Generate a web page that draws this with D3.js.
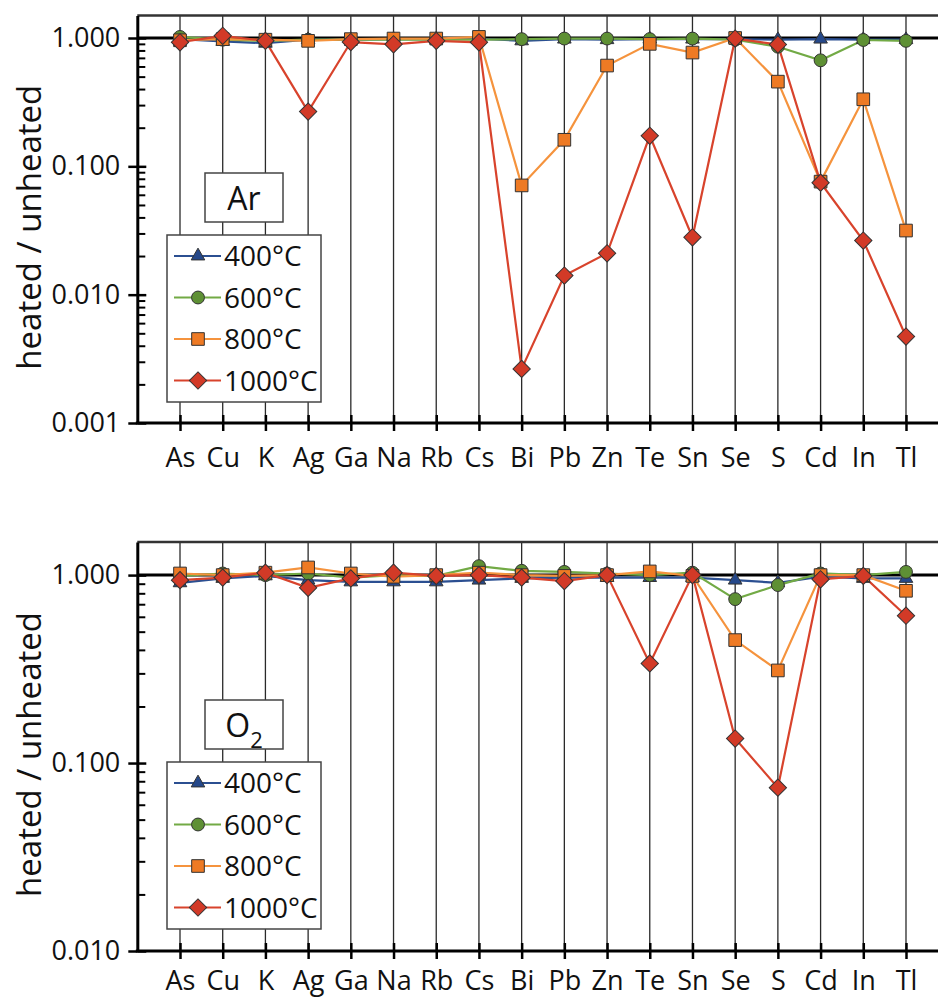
<!DOCTYPE html>
<meta charset="utf-8">
<script src="https://cdn.jsdelivr.net/npm/d3@7"></script>
<style>
  body { margin: 0; background: #fff; }
  text { font-family: "Open Sans", sans-serif; fill: #111; }
</style>
<div id="chart"></div>
<script>
    // categories and legend
    const elements = ["As", "Cu", "K", "Ag", "Ga", "Na", "Rb", "Cs", "Bi", "Pb", "Zn", "Te", "Sn", "Se", "S", "Cd", "In", "Tl"];
    const temps = ["400°C", "600°C", "800°C", "1000°C"];

    // Ar atmosphere (heated / unheated)
    const ar400  = [0.98, 0.94, 0.91, 0.97, 0.97, 0.98, 0.98, 0.99, 0.95, 0.98, 0.97, 0.98, 0.98, 0.98, 0.97, 0.98, 0.97, 0.97];
    const ar600  = [1.02, 0.97, 0.95, 0.97, 0.97, 0.97, 0.97, 0.97, 0.98, 0.99, 0.99, 0.98, 0.99, 0.97, 0.855, 0.67, 0.965, 0.95];
    const ar800  = [0.96, 0.98, 0.97, 0.95, 0.98, 0.99, 0.99, 1.02, 0.071, 0.161, 0.61, 0.90, 0.77, 1.0, 0.457, 0.076, 0.333, 0.0316];
    const ar1000 = [0.926, 1.04, 0.95, 0.267, 0.93, 0.893, 0.95, 0.926, 0.00264, 0.0141, 0.021, 0.173, 0.028, 0.99, 0.89, 0.0746, 0.0264, 0.00472];

    // O2 atmosphere
    const o2_400  = [0.91, 0.96, 0.99, 0.94, 0.92, 0.92, 0.92, 0.94, 0.96, 0.97, 0.97, 0.97, 0.97, 0.94, 0.91, 0.98, 0.96, 0.96];
    const o2_600  = [0.99, 1.02, 1.0, 1.02, 0.97, 1.0, 0.99, 1.116, 1.054, 1.04, 1.02, 1.0, 1.03, 0.745, 0.885, 1.02, 1.0, 1.04];
    const o2_800  = [1.02, 1.0, 1.03, 1.098, 1.02, 0.98, 1.0, 1.03, 1.0, 0.99, 1.0, 1.046, 0.99, 0.451, 0.311, 1.0, 1.0, 0.825];
    const o2_1000 = [0.94, 0.97, 1.03, 0.856, 0.96, 1.03, 0.99, 1.0, 0.97, 0.93, 1.0, 0.339, 1.0, 0.135, 0.074, 0.95, 0.99, 0.608];

    const arTicks = [1, 0.1, 0.01, 0.001];
    const o2Ticks = [1, 0.1, 0.01];

    const lineColors = ["#2b4f91", "#72aa45", "#f5933d", "#d8432c"];
    const markColors = ["#25488a", "#5e9034", "#ee7a24", "#d23a27"];
    const shapes = [d3.symbolTriangle, d3.symbolCircle, d3.symbolSquare, d3.symbolSquare];
    const sizes = [80, 130, 160, 150];

    const W = 938, H = 999;
    const svg = d3.select("#chart").append("svg")
        .attr("width", W)
        .attr("height", H);

    const x = d3.scalePoint()
        .domain(elements)
        .range([137.3, 948.7])
        .padding(1);

    function panel(opts) {
        const y = d3.scaleLog()
            .domain([opts.min, 1.5])
            .range([opts.bottom, opts.top]);
        const g = svg.append("g");
        const left = x.range()[0];

        // vertical grid lines
        g.selectAll(".grid")
            .data(elements)
            .enter()
            .append("line")
            .attr("x1", d => x(d)).attr("x2", d => x(d))
            .attr("y1", opts.top).attr("y2", opts.bottom)
            .attr("stroke", "#2a2a2a")
            .attr("stroke-width", 1.3);

        // frame top
        g.append("line")
            .attr("x1", left).attr("x2", W)
            .attr("y1", opts.top).attr("y2", opts.top)
            .attr("stroke", "#333").attr("stroke-width", 2.5);

        // 1.000 reference line
        g.append("line")
            .attr("x1", left).attr("x2", W)
            .attr("y1", y(1)).attr("y2", y(1))
            .attr("stroke", "#000").attr("stroke-width", 3);

        // minor ticks inside
        const minors = [];
        opts.ticks.slice(0, -1).forEach(t => {
            for (let k = 2; k <= 9; k++) minors.push(t / 10 * k);
        });
        g.append("g")
            .attr("transform", `translate(${left},0)`)
            .call(d3.axisRight(y).tickValues(minors).tickSize(8).tickFormat(""))
            .call(a => a.select(".domain").remove())
            .selectAll("line").attr("stroke", "#000").attr("stroke-width", 2);
        g.append("g")
            .attr("transform", `translate(${left},0)`)
            .call(d3.axisRight(y).tickValues(opts.ticks).tickSize(9).tickFormat(""))
            .call(a => a.select(".domain").remove())
            .selectAll("line").attr("stroke", "#000").attr("stroke-width", 2.5);

        // left axis
        const ya = g.append("g")
            .attr("transform", `translate(${left},0)`)
            .call(d3.axisLeft(y).tickValues(opts.ticks).tickSize(9).tickSizeOuter(0)
                .tickPadding(8).tickFormat(d3.format(".3f")));
        ya.select(".domain").attr("stroke", "#000").attr("stroke-width", 3);
        ya.selectAll("line").attr("stroke", "#000").attr("stroke-width", 2.5);
        ya.selectAll("text").style("font-size", "27px").attr("fill", "#111");

        // bottom axis
        const xa = g.append("g")
            .attr("transform", `translate(0,${opts.bottom})`)
            .call(d3.axisBottom(x).tickSize(8).tickSizeOuter(0).tickPadding(opts.labelPad));
        xa.select(".domain").remove();
        xa.selectAll("line").attr("stroke", "#000").attr("stroke-width", 2.5);
        xa.selectAll("text").style("font-size", "27px").attr("fill", "#111");
        g.append("g")
            .attr("transform", `translate(0,${opts.bottom})`)
            .call(d3.axisTop(x).tickSize(8).tickFormat(""))
            .call(a => a.select(".domain").remove())
            .selectAll("line").attr("stroke", "#000").attr("stroke-width", 2.5);
        g.append("line")
            .attr("x1", left - 1.5).attr("x2", W)
            .attr("y1", opts.bottom).attr("y2", opts.bottom)
            .attr("stroke", "#000").attr("stroke-width", 3);

        // axis title
        g.append("text")
            .attr("transform", `translate(41,${(opts.top + opts.bottom) / 2 + 8}) rotate(-90)`)
            .attr("text-anchor", "middle")
            .style("font-size", "33px")
            .text("heated / unheated");

        // series
        const line = d3.line()
            .x((d, i) => x(elements[i]))
            .y(d => y(d));
        opts.series.forEach((s, k) => {
            g.append("path")
                .datum(s)
                .attr("d", line)
                .attr("fill", "none")
                .attr("stroke", lineColors[k])
                .attr("stroke-width", 2.2);
        });
        opts.series.forEach((s, k) => {
            g.selectAll(".m" + k)
                .data(s)
                .enter()
                .append("path")
                .attr("d", d3.symbol().type(shapes[k]).size(sizes[k]))
                .attr("transform", (d, i) => `translate(${x(elements[i])},${y(d)})` + (k === 3 ? " rotate(45)" : ""))
                .attr("fill", markColors[k])
                .attr("stroke", "#333")
                .attr("stroke-width", 1);
        });

        // gas label box
        const lb = opts.labelBox;
        g.append("rect")
            .attr("x", 205).attr("y", lb)
            .attr("width", 78).attr("height", 49)
            .attr("fill", "#fff").attr("stroke", "#444").attr("stroke-width", 1.5);
        const gt = g.append("text")
            .attr("x", 244).attr("y", lb + 37)
            .attr("text-anchor", "middle")
            .style("font-size", "32px");
        gt.append("tspan").text(opts.gas);
        if (opts.sub) {
            gt.append("tspan").attr("dy", 11).style("font-size", "22px").text(opts.sub);
        }

        // legend
        const ly = opts.legendTop;
        g.append("rect")
            .attr("x", 167).attr("y", ly)
            .attr("width", 154).attr("height", 167)
            .attr("fill", "#fff").attr("stroke", "#444").attr("stroke-width", 1.5);
        temps.forEach((t, k) => {
            const cy = ly + 21 + k * 41.5;
            g.append("line")
                .attr("x1", 174).attr("x2", 221)
                .attr("y1", cy).attr("y2", cy)
                .attr("stroke", lineColors[k]).attr("stroke-width", 2.2);
            g.append("path")
                .attr("d", d3.symbol().type(shapes[k]).size(sizes[k]))
                .attr("transform", `translate(198,${cy})` + (k === 3 ? " rotate(45)" : ""))
                .attr("fill", markColors[k])
                .attr("stroke", "#333")
                .attr("stroke-width", 1);
            g.append("text")
                .attr("x", 224).attr("y", cy)
                .attr("dy", "0.36em")
                .style("font-size", "28px")
                .text(t);
        });
    }

    panel({
        min: 0.001, top: 15.4, bottom: 423, ticks: arTicks, labelPad: 16.5,
        series: [ar400, ar600, ar800, ar1000],
        gas: "Ar", labelBox: 173, legendTop: 235
    });
    panel({
        min: 0.01, top: 542, bottom: 951, ticks: o2Ticks, labelPad: 12,
        series: [o2_400, o2_600, o2_800, o2_1000],
        gas: "O", sub: "2", labelBox: 700, legendTop: 762
    });
</script>
